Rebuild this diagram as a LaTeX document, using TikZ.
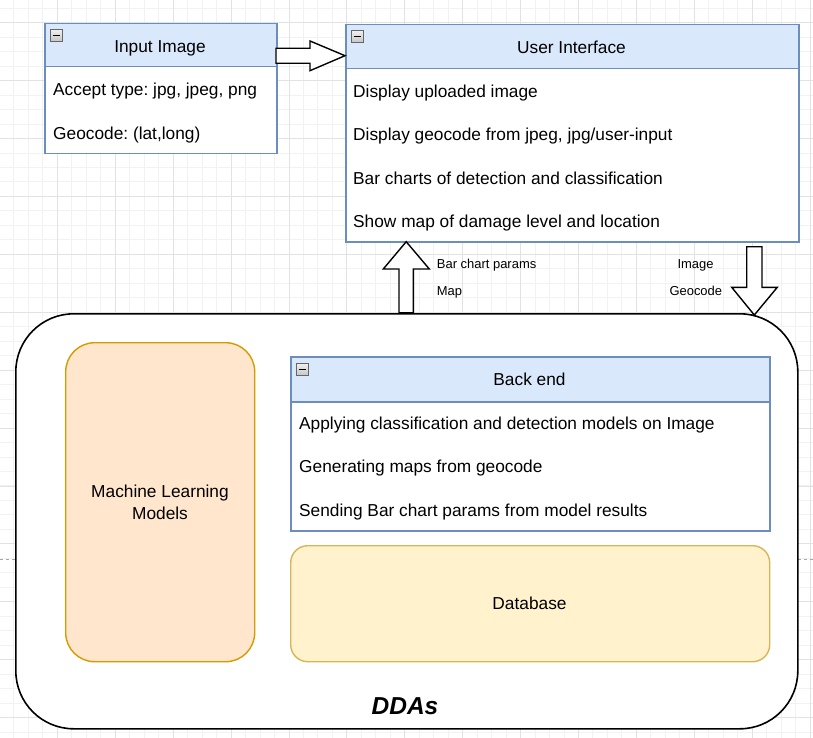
\documentclass[tikz,border=0pt]{standalone}
\usepackage{fontspec}
\setmainfont{Liberation Sans}
\definecolor{bfill}{HTML}{DAE8FC}
\definecolor{bdraw}{HTML}{6C8EBF}
\definecolor{ofill}{HTML}{FFE6CC}
\definecolor{odraw}{HTML}{D79B00}
\definecolor{yfill}{HTML}{FFF2CC}
\definecolor{ydraw}{HTML}{D6B656}
\definecolor{gminor}{HTML}{F2F2F2}
\definecolor{gmajor}{HTML}{E2E2E2}
\begin{document}
\frenchspacing
\begin{tikzpicture}[x=1pt,y=-1pt,
  mainfont/.style={font=\fontsize{17.3}{22}\selectfont},
  smallfont/.style={font=\fontsize{12.96}{16}\selectfont},
  txt/.style={inner sep=0pt, text=black, mainfont},
  lbl/.style={inner sep=0pt, text=black, smallfont},
  box/.style={draw=bdraw, fill=white, line width=1.5pt, inner sep=0pt, anchor=north west},
  hdr/.style={draw=bdraw, fill=bfill, line width=1.5pt, inner sep=0pt, anchor=north west},
  icon/.style={draw=gray!80!black, top color=gray!12, bottom color=gray!45, line width=0.8pt,
    minimum size=12pt, inner sep=0pt,
    path picture={\draw[black, line width=1.3pt] ([xshift=2.2pt]path picture bounding box.west) -- ([xshift=-2.2pt]path picture bounding box.east);}},
  blockarrow/.style={draw=black, fill=white, line width=1.4pt, line join=miter},
  container/.style={draw=black, fill=white, line width=1.6pt, rounded corners=58pt, inner sep=0pt, anchor=north west},
  mlbox/.style={draw=odraw, fill=ofill, line width=1.4pt, rounded corners=29pt, inner sep=0pt, anchor=north west},
  dbbox/.style={draw=ydraw, fill=yfill, line width=1.4pt, rounded corners=17pt, inner sep=0pt, anchor=north west}
]
\useasboundingbox (0,0) rectangle (813,738);
\fill[white] (0,0) rectangle (813,738);
% grid
\foreach \i in {0,...,57} {\pgfmathsetmacro\gx{-0.6+\i*14.475}\draw[gminor, line width=0.8pt] (\gx,0) -- (\gx,738);}
\foreach \i in {0,...,50} {\pgfmathsetmacro\gy{8.2+\i*14.475}\draw[gminor, line width=0.8pt] (0,\gy) -- (813,\gy);}
\foreach \i in {-1,...,13} {\pgfmathsetmacro\gx{57.3+\i*57.9}\draw[gmajor, line width=0.8pt] (\gx,0) -- (\gx,738);}
\foreach \i in {0,...,12} {\pgfmathsetmacro\gy{22.7+\i*57.9}\draw[gmajor, line width=0.8pt] (0,\gy) -- (813,\gy);}
% page break
\draw[gray!70, line width=0.8pt, dash pattern=on 3pt off 3pt] (0,559) -- (813,559);

% Input Image
\node[box, minimum width=232pt, minimum height=130pt] (in) at (44,23) {};
\node[hdr, minimum width=232pt, minimum height=43pt] (inH) at (44,23) {};
\node[icon] (inI) at (56.3,35.5) {};
\node[txt, anchor=base] (inT) at (160,52.3) {Input Image};
\node[txt, anchor=base west] (in1) at (53,95.7) {Accept type: jpg, jpeg, png};
\node[txt, anchor=base west] (in2) at (53,139.5) {Geocode: (lat,long)};

% User Interface
\node[box, minimum width=453pt, minimum height=217pt] (ui) at (345,24) {};
\node[hdr, minimum width=453pt, minimum height=44pt] (uiH) at (345,24) {};
\node[icon] (uiI) at (357.3,36.5) {};
\node[txt, anchor=base] (uiT) at (571.5,53.5) {User Interface};
\node[txt, anchor=base west] (ui1) at (353,97.3) {Display uploaded image};
\node[txt, anchor=base west] (ui2) at (353,140.6) {Display geocode from jpeg, jpg/user-input};
\node[txt, anchor=base west] (ui3) at (353,184.2) {Bar charts of detection and classification};
\node[txt, anchor=base west] (ui4) at (353,227.4) {Show map of damage level and location};

% arrow Input -> UI
\draw[blockarrow] (276,48.3) -- (310,48.3) -- (310,41) -- (345,55.7) -- (310,70.7) -- (310,63.3) -- (276,63.3) -- cycle;

% DDAs container
\node[container, minimum width=782pt, minimum height=415pt] (dda) at (15,313) {};
\node[inner sep=0pt, anchor=base, font=\fontsize{24.5}{28}\selectfont\bfseries\itshape] (ddaT) at (405,714.3) {DDAs};

% arrows between UI and container
\draw[blockarrow] (399,312.7) -- (399,269) -- (383.3,269) -- (406.2,241.7) -- (429.3,269) -- (413.3,269) -- (413.3,312.7) -- cycle;
\draw[blockarrow] (746.7,246.7) -- (762,246.7) -- (762,287.3) -- (777.3,287.3) -- (754.3,315) -- (731.7,287.3) -- (746.7,287.3) -- cycle;
\node[lbl, anchor=base west] (l1) at (436.7,268) {Bar chart params};
\node[lbl, anchor=base west] (l2) at (436.7,295.4) {Map};
\node[lbl, anchor=base] (l3) at (695.5,268) {Image};
\node[lbl, anchor=base] (l4) at (695.8,295.4) {Geocode};

% ML models
\node[mlbox, minimum width=189pt, minimum height=319pt] (ml) at (65,342) {};
\node[txt, align=center] (mlT) at (160,502) {Machine Learning\\Models};

% Back end
\node[box, minimum width=479pt, minimum height=174pt] (be) at (290,356) {};
\node[hdr, minimum width=479pt, minimum height=45pt] (beH) at (290,356) {};
\node[icon] (beI) at (302.5,369.5) {};
\node[txt, anchor=base] (beT) at (529.5,385.5) {Back end};
\node[txt, anchor=base west] (be1) at (299,429.3) {Applying classification and detection models on Image};
\node[txt, anchor=base west] (be2) at (299,472.4) {Generating maps from geocode};
\node[txt, anchor=base west] (be3) at (299,516.2) {Sending Bar chart params from model results};

% Database
\node[dbbox, minimum width=479pt, minimum height=116pt] (db) at (290,545) {};
\node[txt, anchor=base] (dbT) at (529.5,609.3) {Database};
\end{tikzpicture}
\end{document}
